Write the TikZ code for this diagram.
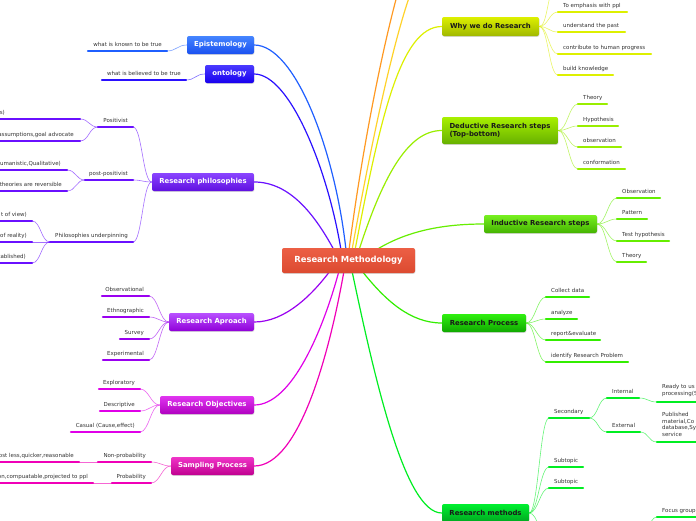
\documentclass[tikz,border=0pt]{standalone}
\usepackage{fontspec}
\setmainfont{DejaVu Sans}
\usetikzlibrary{shadows}
\definecolor{cEpi}{HTML}{1F5FFF}\definecolor{cEpiT}{HTML}{4585FF}\definecolor{cEpiB}{HTML}{1A50F0}
\definecolor{cOnt}{HTML}{2A10FF}\definecolor{cOntT}{HTML}{4A3AFF}\definecolor{cOntB}{HTML}{1800EE}
\definecolor{cPhil}{HTML}{6A10FF}\definecolor{cPhilT}{HTML}{8A45FF}\definecolor{cPhilB}{HTML}{6010E0}
\definecolor{cApp}{HTML}{9A00F0}\definecolor{cAppT}{HTML}{B850FF}\definecolor{cAppB}{HTML}{9000D8}
\definecolor{cObj}{HTML}{E000E8}\definecolor{cObjT}{HTML}{E035F0}\definecolor{cObjB}{HTML}{B000C0}
\definecolor{cSamp}{HTML}{F000B8}\definecolor{cSampT}{HTML}{F035C8}\definecolor{cSampB}{HTML}{C00090}
\definecolor{cOr}{HTML}{FF9922}\definecolor{cYe}{HTML}{FFD22A}
\definecolor{cWhy}{HTML}{DDF000}\definecolor{cWhyT}{HTML}{DDF000}\definecolor{cWhyB}{HTML}{A0B800}
\definecolor{cDed}{HTML}{99EE00}\definecolor{cDedT}{HTML}{A8F000}\definecolor{cDedB}{HTML}{66B000}
\definecolor{cInd}{HTML}{66EE00}\definecolor{cIndT}{HTML}{77F020}\definecolor{cIndB}{HTML}{44B300}
\definecolor{cProc}{HTML}{33EE00}\definecolor{cProcT}{HTML}{30F010}\definecolor{cProcB}{HTML}{10A800}
\definecolor{cMeth}{HTML}{00EE22}\definecolor{cMethT}{HTML}{00F030}\definecolor{cMethB}{HTML}{00A820}
\definecolor{cCen}{HTML}{E5533A}\definecolor{cCenT}{HTML}{EC5F45}\definecolor{cCenB}{HTML}{DC4A30}
\tikzset{
  box/.style={rounded corners=2pt, inner sep=0pt, font=\fontsize{6.9}{8}\selectfont\bfseries,
    drop shadow={opacity=0.3, shadow xshift=0.4pt, shadow yshift=-0.8pt}},
  lt/.style={text=white}, dk/.style={text=black!90},
  leaf/.style={inner sep=0pt, font=\fontsize{5.5}{6.7}\selectfont, text=black!80},
  ul/.style={line width=2.2pt, line cap=round},
  cc/.style={line width=0.6pt, opacity=0.6},
  mc/.style={line width=1.2pt},
}
% left leaf: name, color, xL, xR, y, text end x, text
\newcommand\LLeaf[7]{%
  \coordinate (#1-l) at (#3,#5);
  \coordinate (#1-r) at (#4,#5);
  \draw[ul,#2] (#1-l) -- (#1-r);
  \node[leaf,anchor=base east] (#1) at (#6,#5-5) {#7};}
% right leaf: name, color, xL, xR, y, text start x, text
\newcommand\RLeaf[7]{%
  \coordinate (#1-l) at (#3,#5);
  \coordinate (#1-r) at (#4,#5);
  \draw[ul,#2] (#1-l) -- (#1-r);
  \node[leaf,anchor=base west] (#1) at (#6,#5-5) {#7};}
\newcommand\RCon[3]{\draw[cc,#1] (#2) .. controls +(9,0) and +(-9,0) .. (#3);}
\newcommand\LCon[3]{\draw[cc,#1] (#2) .. controls +(-9,0) and +(9,0) .. (#3);}
\begin{document}
\begin{tikzpicture}[x=1pt,y=-1pt]
\useasboundingbox (0,0) rectangle (696,520);
\clip (0,0) rectangle (696,520);
\fill[white] (0,0) rectangle (696,520);

% start points on the central topic
\coordinate (s-epi) at (346,250);
\coordinate (s-ont) at (341,250);
\coordinate (s-phil) at (334,250);
\coordinate (s-or) at (349,250);
\coordinate (s-ye) at (352,250);
\coordinate (s-why) at (355,250);
\coordinate (s-ded) at (359,250);
\coordinate (s-ind) at (376,250);
\coordinate (s-app) at (330,271);
\coordinate (s-obj) at (339,271);
\coordinate (s-samp) at (344,271);
\coordinate (s-meth) at (352,271);
\coordinate (s-proc) at (362,271);
\coordinate (e-or) at (398,-8);
\coordinate (e-ye) at (411,-8);

% branch boxes
\node[box,lt,minimum width=67pt,minimum height=18pt,top color=cEpiT,bottom color=cEpiB] (epi) at (220.5,45) {Epistemology};
\node[box,lt,minimum width=49pt,minimum height=18pt,top color=cOntT,bottom color=cOntB] (ont) at (229.5,74) {ontology};
\node[box,lt,minimum width=102pt,minimum height=18pt,top color=cPhilT,bottom color=cPhilB] (phil) at (203,182) {Research philosophies};
\node[box,lt,minimum width=85pt,minimum height=18pt,top color=cAppT,bottom color=cAppB] (app) at (211.5,322) {Research Aproach};
\node[box,lt,minimum width=94pt,minimum height=18pt,top color=cObjT,bottom color=cObjB] (obj) at (207,405) {Research Objectives};
\node[box,lt,minimum width=83pt,minimum height=18pt,top color=cSampT,bottom color=cSampB] (samp) at (212.5,466) {Sampling Process};
\node[box,dk,minimum width=97pt,minimum height=19pt,top color=cWhyT,bottom color=cWhyB] (why) at (490.5,26.5) {Why we do Research};
\node[box,dk,minimum width=116pt,minimum height=27pt,align=left,top color=cDedT,bottom color=cDedB] (ded) at (500,130.5) {Deductive Research steps\\(Top-bottom)};
\node[box,dk,minimum width=113pt,minimum height=18pt,top color=cIndT,bottom color=cIndB] (ind) at (540.5,224) {Inductive Research steps};
\node[box,dk,minimum width=84pt,minimum height=18pt,top color=cProcT,bottom color=cProcB] (proc) at (484,323) {Research Process};
\node[box,dk,minimum width=87pt,minimum height=18pt,top color=cMethT,bottom color=cMethB] (meth) at (485.5,513) {Research methods};

% main connectors
\draw[mc,cEpi] (s-epi) .. controls (335,150) and (295,45) .. (epi.east);
\draw[mc,cOnt] (s-ont) .. controls (328,170) and (290,74) .. (ont.east);
\draw[mc,cPhil] (s-phil) .. controls (315,215) and (290,182) .. (phil.east);
\draw[mc,cApp] (s-app) .. controls (312,295) and (285,322) .. (app.east);
\draw[mc,cObj] (s-obj) .. controls (323,330) and (292,405) .. (obj.east);
\draw[mc,cSamp] (s-samp) .. controls (330,350) and (300,466) .. (samp.east);
\draw[mc,cOr] (s-or) .. controls (362,150) and (382,50) .. (e-or);
\draw[mc,cYe] (s-ye) .. controls (370,150) and (392,45) .. (e-ye);
\draw[mc,cWhy] (s-why) .. controls (380,120) and (400,26.5) .. (why.west);
\draw[mc,cDed] (s-ded) .. controls (385,170) and (410,130.5) .. (ded.west);
\draw[mc,cInd] (s-ind) .. controls (405,232) and (440,224) .. (ind.west);
\draw[mc,cProc] (s-proc) .. controls (385,300) and (410,323) .. (proc.west);
\draw[mc,cMeth] (s-meth) .. controls (375,380) and (405,513) .. (meth.west);

% central topic
\node[box,lt,font=\fontsize{8.4}{10}\selectfont\bfseries,minimum width=133pt,minimum height=25pt,top color=cCenT,bottom color=cCenB] (cen) at (348.5,260.5) {Research Methodology};

% ---- Epistemology / ontology
\LLeaf{epic}{cEpi}{88}{167}{51}{162}{what is known to be true}
\LCon{cEpi}{epi.west}{epic-r}
\LLeaf{ontc}{cOnt}{102}{186}{80}{181}{what is believed to be true}
\LCon{cOnt}{ont.west}{ontc-r}

% ---- Research philosophies
\LLeaf{pos}{cPhil}{98}{133}{127}{128}{Positivist}
\LLeaf{post}{cPhil}{85}{133}{180}{128}{post-positivist}
\LLeaf{und}{cPhil}{50}{133}{242}{128}{Philosophies underpinning}
\LCon{cPhil}{phil.west}{pos-r}
\LCon{cPhil}{phil.west}{post-r}
\LCon{cPhil}{phil.west}{und-r}
\LLeaf{posa}{cPhil}{-10}{80}{119}{5}{s)}
\LLeaf{posb}{cPhil}{-10}{80}{141}{74}{assumptions,goal advocate}
\LCon{cPhil}{pos-l}{posa-r}
\LCon{cPhil}{pos-l}{posb-r}
\LLeaf{posta}{cPhil}{-10}{67}{170}{61}{umanistic,Qualitative)}
\LLeaf{postb}{cPhil}{-10}{67}{191}{62}{theories are reversible}
\LCon{cPhil}{post-l}{posta-r}
\LCon{cPhil}{post-l}{postb-r}
\LLeaf{unda}{cPhil}{-10}{32}{221}{27}{t of view)}
\LLeaf{undb}{cPhil}{-10}{32}{242}{27}{of reality)}
\LLeaf{undc}{cPhil}{-10}{32}{263}{26}{tablished)}
\LCon{cPhil}{und-l}{unda-r}
\LCon{cPhil}{und-l}{undb-r}
\LCon{cPhil}{und-l}{undc-r}

% ---- Research Aproach
\LLeaf{obs}{cApp}{102}{149}{296}{144}{Observational}
\LLeaf{eth}{cApp}{103}{149}{317}{144}{Ethnographic}
\LLeaf{sur}{cApp}{120}{149}{339}{144}{Survey}
\LLeaf{expm}{cApp}{103}{149}{360}{144}{Experimental}
\LCon{cApp}{app.west}{obs-r}
\LCon{cApp}{app.west}{eth-r}
\LCon{cApp}{app.west}{sur-r}
\LCon{cApp}{app.west}{expm-r}

% ---- Research Objectives
\LLeaf{expl}{cObj}{99}{140}{389}{135}{Exploratory}
\LLeaf{desc}{cObj}{100}{140}{411}{135}{Descriptive}
\LLeaf{cas}{cObj}{71}{140}{432}{135}{Casual (Cause,effect)}
\LCon{cObj}{obj.west}{expl-r}
\LCon{cObj}{obj.west}{desc-r}
\LCon{cObj}{obj.west}{cas-r}

% ---- Sampling Process
\LLeaf{nonp}{cSamp}{98}{151}{462}{146}{Non-probability}
\LLeaf{prob}{cSamp}{112}{151}{483}{146}{Probability}
\LCon{cSamp}{samp.west}{nonp-r}
\LCon{cSamp}{samp.west}{prob-r}
\LLeaf{nonpa}{cSamp}{-10}{79}{462}{74}{ost less,quicker,reasonable}
\LLeaf{proba}{cSamp}{-10}{93}{483}{88}{on,compuatable,projected to ppl}
\LCon{cSamp}{nonp-l}{nonpa-r}
\LCon{cSamp}{prob-l}{proba-r}

% ---- Why we do Research
\coordinate (why-up) at (556,-12);
\RCon{cWhy}{why.east}{why-up}
\RLeaf{whya}{cWhy}{558}{627}{12}{563}{To emphasis with ppl}
\RLeaf{whyb}{cWhy}{558}{625}{32}{563}{understand the past}
\RLeaf{whyc}{cWhy}{558}{651}{54}{563}{contribute to human progress}
\RLeaf{whyd}{cWhy}{558}{613}{75}{563}{build knowledge}
\RCon{cWhy}{why.east}{whya-l}
\RCon{cWhy}{why.east}{whyb-l}
\RCon{cWhy}{why.east}{whyc-l}
\RCon{cWhy}{why.east}{whyd-l}

% ---- Deductive
\RLeaf{deda}{cDed}{578}{607}{104}{583}{Theory}
\RLeaf{dedb}{cDed}{578}{618}{126}{583}{Hypothesis}
\RLeaf{dedc}{cDed}{578}{621}{147}{583}{observation}
\RLeaf{dedd}{cDed}{578}{625}{169}{583}{conformation}
\RCon{cDed}{ded.east}{deda-l}
\RCon{cDed}{ded.east}{dedb-l}
\RCon{cDed}{ded.east}{dedc-l}
\RCon{cDed}{ded.east}{dedd-l}

% ---- Inductive
\RLeaf{inda}{cInd}{617}{660}{198}{622}{Observation}
\RLeaf{indb}{cInd}{617}{647}{219}{622}{Pattern}
\RLeaf{indc}{cInd}{617}{669}{241}{622}{Test hypothesis}
\RLeaf{indd}{cInd}{617}{646}{262}{622}{Theory}
\RCon{cInd}{ind.east}{inda-l}
\RCon{cInd}{ind.east}{indb-l}
\RCon{cInd}{ind.east}{indc-l}
\RCon{cInd}{ind.east}{indd-l}

% ---- Research Process
\RLeaf{proca}{cProc}{546}{589}{297}{551}{Collect data}
\RLeaf{procb}{cProc}{546}{577}{319}{551}{analyze}
\RLeaf{procc}{cProc}{546}{600}{340}{551}{report\&evaluate}
\RLeaf{procd}{cProc}{546}{628}{362}{551}{identify Research Problem}
\RCon{cProc}{proc.east}{proca-l}
\RCon{cProc}{proc.east}{procb-l}
\RCon{cProc}{proc.east}{procc-l}
\RCon{cProc}{proc.east}{procd-l}

% ---- Research methods
\RLeaf{sec}{cMeth}{549}{589}{418}{554}{Secondary}
\RLeaf{sub1}{cMeth}{549}{583}{467}{554}{Subtopic}
\RLeaf{sub2}{cMeth}{549}{583}{488}{554}{Subtopic}
\coordinate (meth-down) at (549,540);
\RCon{cMeth}{meth.east}{sec-l}
\RCon{cMeth}{meth.east}{sub1-l}
\RCon{cMeth}{meth.east}{sub2-l}
\RCon{cMeth}{meth.east}{meth-down}
\RLeaf{int}{cMeth}{607}{639}{398}{612}{Internal}
\RLeaf{ext}{cMeth}{607}{640}{432}{612}{External}
\RCon{cMeth}{sec-r}{int-l}
\RCon{cMeth}{sec-r}{ext-l}
\coordinate (inta-l) at (657,402);
\coordinate (inta-r) at (700,402);
\draw[ul,cMeth] (inta-l) -- (inta-r);
\node[leaf,anchor=north west,align=left] (inta) at (662,384) {Ready to us\\processing(S};
\RCon{cMeth}{int-r}{inta-l}
\coordinate (exta-l) at (657,442);
\coordinate (exta-r) at (700,442);
\draw[ul,cMeth] (exta-l) -- (exta-r);
\node[leaf,anchor=north west,align=left] (exta) at (662,412) {Published\\material,Co\\database,Sy\\service};
\RCon{cMeth}{ext-r}{exta-l}
\coordinate (foc-src) at (640,540);
\RLeaf{foc}{cMeth}{657}{700}{517}{662}{Focus group}
\RCon{cMeth}{foc-src}{foc-l}
\end{tikzpicture}
\end{document}
